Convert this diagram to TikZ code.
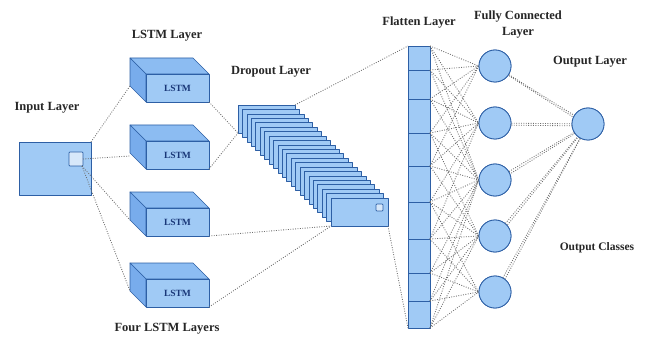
\documentclass[tikz,border=0pt]{standalone}
\usepackage{fontspec}
\setmainfont{Liberation Serif}
\usetikzlibrary{calc}
\definecolor{bfill}{RGB}{160,202,245}
\definecolor{bside}{RGB}{120,172,236}
\definecolor{btop}{RGB}{140,188,242}
\definecolor{bedge}{RGB}{45,95,165}
\definecolor{lfill}{RGB}{215,232,250}
\definecolor{ltxt}{RGB}{25,55,120}
\definecolor{dots}{RGB}{110,110,110}
\begin{document}
\begin{tikzpicture}[x=1pt,y=-1pt,
  conn/.style={draw=dots,line width=0.85pt,dash pattern=on 0.9pt off 1.5pt},
  face/.style={draw=bedge,line width=0.7pt,line join=round},
  lbl/.style={font=\fontsize{12.5}{13}\selectfont\bfseries,text=black!85,align=center},
  neuron/.style={circle,draw=bedge,fill=bfill,line width=0.8pt,minimum size=32pt,inner sep=0pt},
  lstmtxt/.style={font=\fontsize{9.5}{10}\selectfont\bfseries,text=ltxt}]
\useasboundingbox (0,0) rectangle (648,342);
% labels
\node[lbl] (tIn) at (47,108) {Input Layer};
\node[lbl] (tLstm) at (167,36) {LSTM Layer};
\node[lbl] (tFour) at (167,329) {Four LSTM Layers};
\node[lbl] (tDrop) at (271,72) {Dropout Layer};
\node[lbl] (tFlat) at (419,23) {Flatten Layer};
\node[lbl] (tFC1) at (518,17) {Fully Connected};
\node[lbl] (tFC2) at (518,33) {Layer};
\node[lbl] (tOut) at (590,62) {Output Layer};
\node[lbl,font=\fontsize{11.5}{12}\selectfont\bfseries] (tCls) at (597,248) {Output Classes};
% input layer
\draw[face,fill=bfill] (19,142) rectangle (91,195);
\draw[face,fill=lfill,rounded corners=0.8pt] (69,152) rectangle (83,166);
\coordinate (inTR) at (91,142);
\coordinate (sqE) at (83,159);
\coordinate (sqBR) at (82,166);
% LSTM boxes
\foreach \i/\yy in {1/74,2/141,3/208,4/279}{
  \draw[face,fill=btop] (146,\yy) -- (130,\yy-16) -- (193,\yy-16) -- (209,\yy) -- cycle;
  \draw[face,fill=bside] (146,\yy) -- (130,\yy-16) -- (130,\yy+12) -- (146,\yy+28) -- cycle;
  \draw[face,fill=bfill] (146,\yy) rectangle (209,\yy+28);
  \node[lstmtxt] (L\i) at (177.5,\yy+14) {LSTM};
  \coordinate (Lb\i) at (130,\yy+12);
  \coordinate (Lr\i) at (209,\yy+28);
}
\coordinate (Lm2) at (130,156);
% dropout stack
\foreach \k in {0,...,21}{
  \draw[face,line width=0.6pt,fill=bfill] ({238+\k*4.43},{105+\k*4.43}) rectangle ++(57,28);
}
\draw[face,fill=lfill,rounded corners=0.8pt] (376,204) rectangle (383,211);
\coordinate (dFirstBL) at (238,133);
\coordinate (dFirstTR) at (295,105);
\coordinate (dLastBL) at (331,226);
\coordinate (dLastBR) at (388,226);
% flatten
\draw[face,fill=bfill] (408,46) rectangle (430,328);
\foreach \yy in {70,99,133,166,202,239,273,301}{\draw[face] (408,\yy) -- (430,\yy);}
\coordinate (fTL) at (408,46);
\coordinate (fBL) at (408,328);
\foreach \j/\yy in {0/46,1/70,2/99,3/133,4/166,5/202,6/239,7/273,8/301,9/328}{
  \coordinate (f\j) at (430,\yy);
}
% neurons
\foreach \k/\yy in {1/66,2/123,3/180,4/236,5/292}{
  \node[neuron] (c\k) at (495,\yy) {};
}
\node[neuron] (o) at (588,124) {};
% connectors
\draw[conn] (inTR) -- (Lb1);
\draw[conn] (sqE) -- (Lm2);
\draw[conn] (sqBR) -- (Lb3);
\draw[conn] (sqBR) -- (Lb4);
\draw[conn] (Lr1) -- (dFirstBL);
\draw[conn] (Lr2) -- (dFirstBL);
\draw[conn] (Lr3) -- (dLastBL);
\draw[conn] (Lr4) -- (dLastBL);
\draw[conn] (dFirstTR) -- (fTL);
\draw[conn] (dLastBR) -- (fBL);
\foreach \j/\a/\b in {0/1/3,1/1/3,2/1/3,3/1/4,4/1/4,5/2/5,6/2/5,7/3/5,8/3/5,9/3/5}{
  \foreach \k in {\a,...,\b}{
    \draw[conn] (f\j) -- (c\k.west);
  }
}
\foreach \k in {1,...,5}{
  \draw[conn] (c\k) -- (o);
  \draw[conn] ($(c\k)+(2,2)$) -- ($(o)+(-1,2)$);
}
% redraw neurons on top
\foreach \k/\yy in {1/66,2/123,3/180,4/236,5/292}{
  \node[neuron] at (495,\yy) {};
}
\node[neuron] at (588,124) {};
\end{tikzpicture}
\end{document}
